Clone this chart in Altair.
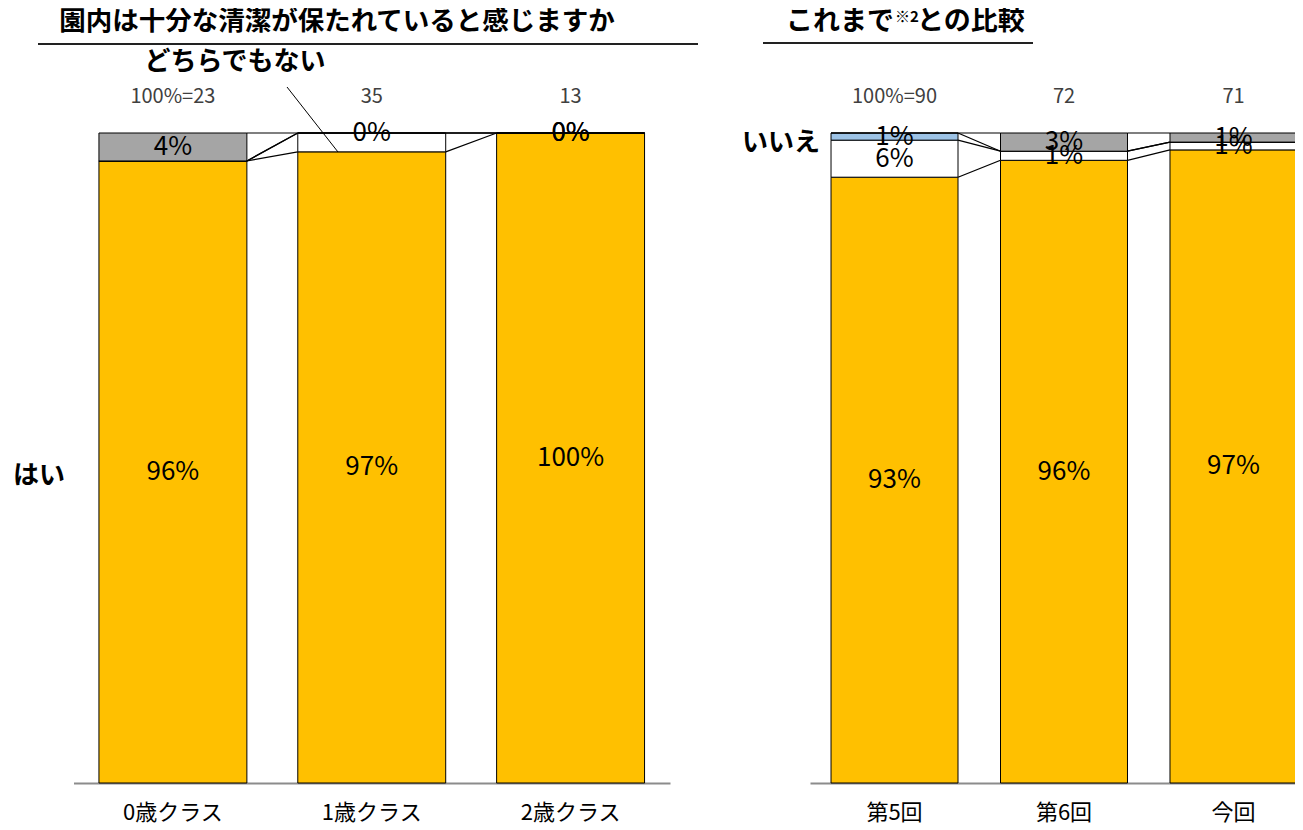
import altair as alt
import pandas as pd

FONT = "Noto Sans CJK JP"

series = ["はい", "どちらでもない", "無回答", "いいえ"]
colors = ["#FFC000", "#FFFFFF", "#9DC3E6", "#A5A5A5"]

# Left panel: by class
cats_left = ["0歳クラス", "1歳クラス", "2歳クラス"]
n_left = ["100%=23", "35", "13"]
hai_left = [95.7, 97.1, 100.0]
dochira_left = [0.0, 2.9, 0.0]
mukaitou_left = [0.0, 0.0, 0.0]
iie_left = [4.3, 0.0, 0.0]
lab_hai_left = ["96%", "97%", "100%"]
lab_dochira_left = ["", "", "0%"]
lab_mukaitou_left = ["", "", ""]
lab_iie_left = ["4%", "0%", "0%"]

# Right panel: comparison with past surveys
cats_right = ["第5回", "第6回", "今回"]
n_right = ["100%=90", "72", "71"]
hai_right = [93.2, 95.8, 97.4]
dochira_right = [5.7, 1.4, 1.2]
mukaitou_right = [1.1, 0.0, 0.0]
iie_right = [0.0, 2.8, 1.4]
lab_hai_right = ["93%", "96%", "97%"]
lab_dochira_right = ["6%", "1%", "1%"]
lab_mukaitou_right = ["1%", "", ""]
lab_iie_right = ["", "3%", "1%"]


def build(cats, vals, labs):
    rows, tops = [], {}
    for i, c in enumerate(cats):
        base = 0.0
        for s, vv, ll in zip(series, vals, labs):
            v = vv[i]
            rows.append(dict(cat=c, series=s, y0=base, y1=base + v,
                             mid=base + v / 2, label=ll[i]))
            base += v
            tops[(s, i)] = base
    conn = []
    for s in series:
        for i in range(len(cats) - 1):
            conn.append(dict(frm=cats[i], to=cats[i + 1], series=s,
                             ya=tops[(s, i)], yb=tops[(s, i + 1)]))
    return pd.DataFrame(rows), pd.DataFrame(conn)


Y = alt.Scale(domain=[0, 100], range=[775, 125])


def panel(cats, n, vals, labs, rng, pi, po):
    df, conn = build(cats, vals, labs)
    xs = alt.Scale(domain=cats, range=rng, paddingInner=pi, paddingOuter=po)
    ax = alt.Axis(orient="bottom", title=None, ticks=False, grid=False,
                  domainColor="#8c8c8c", domainWidth=2, labelFont=FONT,
                  labelFontSize=22, labelColor="#000000", labelPadding=29,
                  labelBaseline="middle", labelAngle=0)
    bars = alt.Chart(df).mark_bar(stroke="black", strokeWidth=1).encode(
        x=alt.X("cat:N", scale=xs, axis=ax),
        y=alt.Y("y0:Q", scale=Y, axis=None),
        y2="y1:Q",
        color=alt.Color("series:N", scale=alt.Scale(domain=series, range=colors),
                        legend=None),
    )
    lines = alt.Chart(conn).mark_rule(color="black", strokeWidth=1.2).encode(
        x=alt.X("frm:N", scale=xs, axis=ax, bandPosition=1),
        x2=alt.X2("to:N", bandPosition=0),
        y=alt.Y("ya:Q", scale=Y, axis=None),
        y2="yb:Q",
    )
    texts = alt.Chart(df).mark_text(font=FONT, fontSize=26, color="black",
                                    baseline="middle").encode(
        x=alt.X("cat:N", scale=xs, axis=ax),
        y=alt.Y("mid:Q", scale=Y, axis=None),
        text="label:N",
    )
    ndf = pd.DataFrame({"cat": cats, "n": n})
    ntext = alt.Chart(ndf).mark_text(font=FONT, fontSize=20, color="#404040",
                                     baseline="middle").encode(
        x=alt.X("cat:N", scale=xs, axis=ax),
        y=alt.value(89),
        text="n:N",
    )
    return alt.layer(bars, lines, texts, ntext)


left = panel(cats_left, n_left,
             [hai_left, dochira_left, mukaitou_left, iie_left],
             [lab_hai_left, lab_dochira_left, lab_mukaitou_left, lab_iie_left],
             [65.5, 662], 0.256, 0.128)
right = panel(cats_right, n_right,
              [hai_right, dochira_right, mukaitou_right, iie_right],
              [lab_hai_right, lab_dochira_right, lab_mukaitou_right, lab_iie_right],
              [802, 1310], 0.2507, 0.124)

one = pd.DataFrame({"a": [0]})


def label(txt, x, y, size=26, align="center", weight="bold"):
    return alt.Chart(one).mark_text(font=FONT, fontSize=size, fontWeight=weight,
                                    align=align, baseline="middle",
                                    color="black").encode(
        x=alt.value(x), y=alt.value(y), text=alt.value(txt))


def hline(x1, x2, y, w=2, c="#222222"):
    return alt.Chart(one).mark_rule(color=c, strokeWidth=w).encode(
        x=alt.value(x1), x2=alt.value(x2), y=alt.value(y))


annot = [
    label("園内は十分な清潔が保たれていると感じますか", 329, 14, size=26.5),
    hline(30, 690, 36),
    label("これまで", 886, 14, size=27, align="right"),
    label("※2", 887, 9, size=15, align="left"),
    label("との比較", 909, 14, size=27, align="left"),
    hline(755, 1025, 35),
    label("どちらでもない", 227, 54),
    alt.Chart(one).mark_rule(color="black", strokeWidth=1).encode(
        x=alt.value(279), x2=alt.value(330), y=alt.value(79), y2=alt.value(144)),
    label("はい", 31, 468),
    label("いいえ", 773, 135),
]

chart = alt.layer(left, right, *annot).resolve_scale(x="independent").properties(
    width=1287, height=775,
    autosize=alt.AutoSizeParams(type="none"),
    padding={"left": 0, "top": 0, "right": 0, "bottom": 42},
).configure_view(stroke=None)

chart.save("out.html", embed_options={"renderer": "svg", "actions": False})
